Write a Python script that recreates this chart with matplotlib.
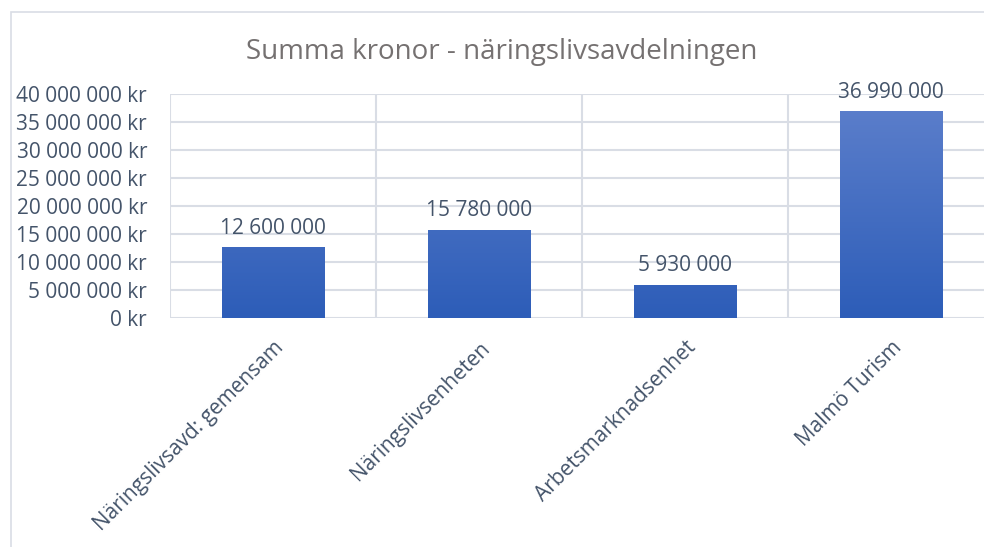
import matplotlib.pyplot as plt
import numpy as np
from matplotlib.patches import Rectangle

plt.rcParams['font.family'] = ['Open Sans', 'DejaVu Sans']

# data
categories = ['Näringslivsavd: gemensam', 'Näringslivsenheten',
              'Arbetsmarknadsenhet', 'Malmö Turism']
values = [12600000, 15780000, 5930000, 36990000]
yticks = [0, 5000000, 10000000, 15000000, 20000000, 25000000, 30000000, 35000000, 40000000]

def sek(v):
    return '{:,}'.format(int(v)).replace(',', ' ')

text_col = '#44546A'
grid_col = '#D9DDE5'

fig = plt.figure(figsize=(9.84, 5.47), dpi=100)

# chart border (cut off at right and bottom like the screenshot)
fig.patches.append(Rectangle((11 / 984, -0.1), 1.2, 1 - 12 / 547 + 0.1,
                             transform=fig.transFigure, fill=False,
                             edgecolor=grid_col, linewidth=1.2))

ax = fig.add_axes([170 / 984, 1 - 318 / 547, 824 / 984, 224 / 547])
x = np.arange(len(categories))
bars = ax.bar(x, values, width=0.5, color='none', zorder=3)

# vertical gradient inside each bar
grad = np.linspace(1, 0, 256).reshape(-1, 1)
top = np.array([0x5E, 0x80, 0xCC]) / 255
bot = np.array([0x2D, 0x5D, 0xB8]) / 255
rgb = bot + (top - bot) * grad[:, :, None]
for b in bars:
    im = ax.imshow(rgb, extent=[b.get_x(), b.get_x() + b.get_width(), 0, 40000000],
                   aspect='auto', zorder=3, interpolation='bilinear')
    im.set_clip_path(b)

for xi, v in zip(x, values):
    ax.annotate(sek(v), (xi, v), xytext=(0, 6), textcoords='offset points',
                ha='center', va='bottom', fontsize=15, color=text_col)

ax.set_xlim(-0.5, 3.5)
ax.set_ylim(0, 40000000)
ax.set_yticks(yticks)
ax.set_yticklabels([sek(t) + ' kr' for t in yticks], fontsize=15, color=text_col)
ax.tick_params(axis='y', length=0, pad=16.5)
ax.set_xticks(x)
ax.set_xticklabels(categories, rotation=45, ha='right', rotation_mode='anchor',
                   fontsize=15, color=text_col)
ax.tick_params(axis='x', length=0, pad=14)

ax.yaxis.grid(True, color=grid_col, linewidth=1.5, zorder=0)
for xb in np.arange(-0.5, 4, 1):
    ax.axvline(xb, color=grid_col, linewidth=1.5, zorder=0)
for s in ax.spines.values():
    s.set_visible(False)
ax.set_axisbelow(True)

fig.text(502 / 984, 1 - 52 / 547, 'Summa kronor - näringslivsavdelningen',
         ha='center', va='center', fontsize=20, color='#757171')

fig.savefig('out.png', dpi=100)
